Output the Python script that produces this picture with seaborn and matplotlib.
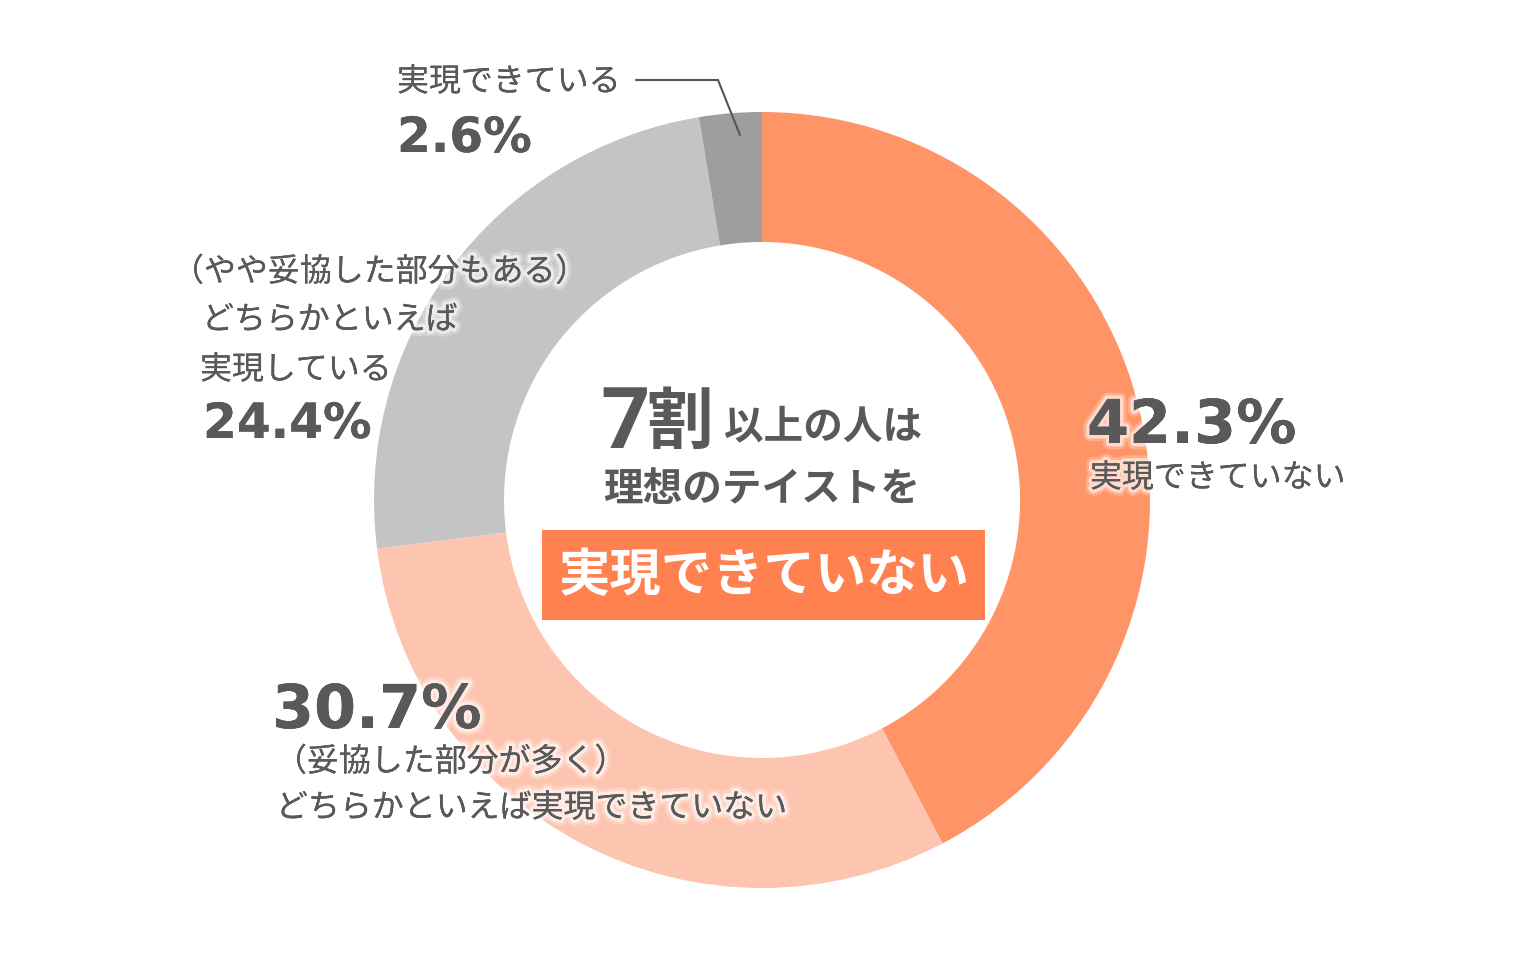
import matplotlib
matplotlib.use("Agg")
import matplotlib.pyplot as plt
import matplotlib.patheffects as pe
from matplotlib.patches import Rectangle
import seaborn as sns

sns.set_theme(style="white")
plt.rcParams['font.family'] = ['Noto Sans CJK JP', 'DejaVu Sans']

# ---- data ----
categories = ["実現できていない", "（妥協した部分が多く）どちらかといえば実現できていない",
              "（やや妥協した部分もある）どちらかといえば実現している", "実現できている"]
values = [42.3, 30.7, 24.4, 2.6]
value_labels = ["42.3%", "30.7%", "24.4%", "2.6%"]
slice_colors = ["#FF9466", "#FDC5AF", "#C4C4C4", "#9E9E9E"]
palette = sns.color_palette(slice_colors)

TXT = "#595959"
CJK = ['Noto Sans CJK JP', 'DejaVu Sans']
glow = [pe.withStroke(linewidth=9, foreground="white", alpha=0.25),
        pe.withStroke(linewidth=5, foreground="white", alpha=0.55),
        pe.Normal()]

fig = plt.figure(figsize=(15.2, 9.6), dpi=100)
ax = fig.add_axes([0, 0, 1, 1])
H = 960

def Y(y):
    return H - y

ax.pie(values, colors=palette, startangle=90, counterclock=False,
       radius=388, center=(762, Y(500)),
       wedgeprops=dict(width=130, edgecolor="none", linewidth=0))
ax.set_xlim(0, 1520)
ax.set_ylim(0, H)
ax.set_aspect("equal")
ax.axis("off")

# ---- slice labels ----
def label(x, y, s, size, weight="normal", ha="left", va="center", family=CJK):
    ax.text(x, Y(y), s, fontsize=size, fontweight=weight, color=TXT, ha=ha, va=va,
            family=family, path_effects=glow, zorder=5)

NUM = ['DejaVu Sans']
LS = 23

# 42.3%
label(1087, 443, value_labels[0], 43.5, weight="bold", va="baseline", family=NUM)
label(1090, 478, "実現できていない", LS)

# 30.7%
label(272, 728, value_labels[1], 43.5, weight="bold", va="baseline", family=NUM)
label(275, 762, "（妥協した部分が多く）", LS)
label(276, 808, "どちらかといえば実現できていない", LS)

# 24.4%
label(172, 272, "（やや妥協した部分もある）", LS)
label(202, 320, "どちらかといえば", LS)
label(200, 370, "実現している", LS)
label(203, 438, value_labels[2], 35, weight="bold", va="baseline", family=NUM)

# 2.6%
label(397, 82, "実現できている", LS)
label(397, 152, value_labels[3], 35, weight="bold", va="baseline", family=NUM)
ax.plot([636, 718, 740], [Y(80), Y(80), Y(135)], color="#555555", lw=1.5, zorder=4,
        solid_joinstyle="miter")

# ---- centre text ----
ax.text(600, Y(448), "7", fontsize=62, fontweight="bold", color=TXT, ha="left",
        va="baseline", family=['Roboto', 'DejaVu Sans'], zorder=5)
ax.text(646, Y(423), "割", fontsize=48, fontweight="bold", color=TXT, ha="left",
        va="center", family=CJK, zorder=5)
ax.text(724, Y(427), "以上の人は", fontsize=28.5, fontweight="bold", color=TXT, ha="left",
        va="center", family=CJK, zorder=5)
ax.text(762, Y(489), "理想のテイストを", fontsize=28.5, fontweight="bold", color=TXT,
        ha="center", va="center", family=CJK, zorder=5)

ax.add_patch(Rectangle((542, Y(620)), 443, 90, facecolor="#FF8150", edgecolor="none", zorder=4))
ax.text(764, Y(576), "実現できていない", fontsize=37, fontweight="bold", color="white",
        ha="center", va="center", family=CJK, zorder=5)

fig.savefig("out.png", dpi=100, facecolor="white")
